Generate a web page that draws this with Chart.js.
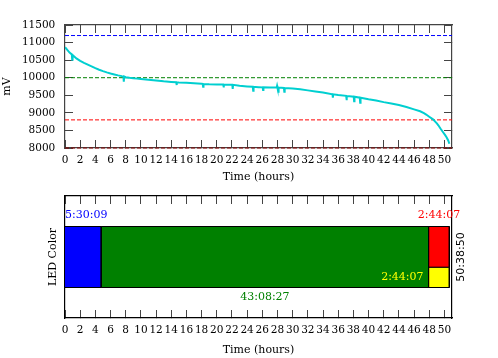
<!DOCTYPE html>
<html><head><meta charset="utf-8">
<script src="https://cdn.jsdelivr.net/npm/chart.js@4"></script>
<style>
html,body{margin:0;padding:0;background:#fff;}
#wrap{position:relative;width:498px;height:358px;overflow:hidden;}
#wrap canvas{position:absolute;left:0;top:0;}
</style></head><body>
<div id="wrap">
<canvas id="topChart" width="498" height="358"></canvas>
<canvas id="botChart" width="498" height="358"></canvas>
</div>
<script>
// ---------- data ----------
const hours = [0,0.3,0.6,0.9,0.95,1.0,1.5,2,2.5,3,3.5,4,4.5,5,5.5,6,6.5,7,7.5,7.7,7.75,7.8,8,8.5,9,9.5,10,11,12,13,14,14.65,14.7,14.75,15,16,17,18,18.15,18.2,18.25,19,20,20.85,20.9,20.95,21.5,22.05,22.1,22.15,23,24,24.75,24.8,24.85,25.5,26.05,26.1,26.15,27,27.9,27.95,28.0,28.1,28.15,28.85,28.9,28.95,30,31,32,33,34,35.25,35.3,35.35,36,37.05,37.1,37.15,38.05,38.1,38.15,38.85,38.9,38.95,40,41,42,43,44,45,46,46.8,47.3,47.6,48,48.5,49,49.2,49.5,49.8,50.1,50.3,50.5,50.65];
const voltage = [10870,10790,10715,10660,10510,10645,10550,10478,10420,10370,10322,10272,10228,10188,10152,10120,10092,10066,10045,10040,9890,10035,10015,9998,9985,9975,9965,9942,9918,9896,9880,9872,9790,9870,9865,9855,9840,9825,9822,9745,9820,9812,9808,9806,9725,9805,9803,9800,9685,9798,9770,9752,9742,9630,9740,9732,9726,9650,9725,9722,9722,9770,9720,9600,9718,9708,9600,9706,9690,9672,9640,9610,9580,9530,9430,9528,9505,9485,9360,9482,9460,9330,9458,9432,9285,9430,9385,9350,9305,9268,9222,9165,9100,9046,8992,8952,8890,8815,8700,8647,8548,8456,8365,8300,8215,8120];
const refLevels = [11200, 10000, 8800, 8000];
const refColors = ['#0000ff', '#008000', '#ff0000', '#8b0000'];
const yTickMin = 8000, yTickMax = 11500, yTickStep = 500;
const xTickMin = 0, xTickMax = 51, xTickStep = 2;

const ledColors = ['#0000ff', '#008000', '#ff0000', '#ffff00'];
const ledStart  = [-0.731, 4.771, 47.912, 47.912];
const ledEnd    = [4.771, 47.912, 50.647, 50.647];
const ledLow    = [0, 0, 0.333, 0];
const ledHigh   = [1, 1, 1, 0.333];
const ledLabels = ['5:30:09', '43:08:27', '2:44:07', '2:44:07'];
const totalLabel = '50:38:50';

// ---------- styles ----------
const SERIF = 'DejaVu Serif';
const tickFont = {family: SERIF, size: 10.5};
const titleFont = {family: SERIF, size: 11};
const AX = '#444';

function inwardGrid(color){ return {drawOnChartArea:false, drawTicks:true, tickLength:-8, color:color, lineWidth:1}; }

// ---------- top chart ----------
const voltagePoints = hours.map((h,i)=>({x:h, y:voltage[i]}));
const topDatasets = [{
  data: voltagePoints, borderColor:'#00cfd0', borderWidth:2, pointRadius:0, tension:0, fill:false, order:0
}].concat(refLevels.map((v,i)=>({
  data:[{x:xTickMin,y:v},{x:xTickMax,y:v}], borderColor:refColors[i], borderWidth:1,
  borderDash:[4,2], pointRadius:0, fill:false, order:1, clip:false
})));

new Chart(document.getElementById('topChart'), {
  type:'line',
  data:{datasets: topDatasets},
  options:{
    responsive:false, animation:false, devicePixelRatio:1,
    layout:{padding:{top:25, right:46, left:0, bottom:0}},
    plugins:{legend:{display:false}, tooltip:{enabled:false}},
    scales:{
      x:{type:'linear', position:'bottom', min:xTickMin, max:xTickMax,
         ticks:{stepSize:xTickStep, includeBounds:false, autoSkip:false, maxRotation:0, minRotation:0, padding:14, font:tickFont, color:'#000', callback:v=>String(v)},
         grid:inwardGrid(AX), border:{display:true, color:AX, width:1.2},
         title:{display:true, text:'Time (hours)', font:titleFont, color:'#000', padding:{top:0,bottom:174.4}},
         afterFit:s=>{s.height=210;}},
      x2:{type:'linear', position:'top', min:xTickMin, max:xTickMax,
         ticks:{display:false, stepSize:xTickStep, includeBounds:false},
         grid:inwardGrid(AX), border:{display:true, color:AX, width:1.2},
         afterFit:s=>{s.height=0;}},
      y:{type:'linear', position:'left', min:yTickMin, max:yTickMax,
         ticks:{stepSize:yTickStep, padding:17.7, font:tickFont, color:'#000', callback:v=>String(v)},
         grid:inwardGrid(AX), border:{display:true, color:AX, width:1.2},
         title:{display:true, text:'mV', font:titleFont, color:'#000', padding:{top:0.4,bottom:0}},
         afterFit:s=>{s.width=65;}},
      y2:{type:'linear', position:'right', min:yTickMin, max:yTickMax,
         ticks:{display:false, stepSize:yTickStep},
         grid:inwardGrid(AX), border:{display:true, color:AX, width:1.2},
         afterFit:s=>{s.width=0;}}
    }
  }
});

// ---------- bottom chart ----------
const ledDatasets = ledColors.map((c,i)=>({
  data:[{x:ledStart[i],y:ledLow[i]},{x:ledStart[i],y:ledHigh[i]},{x:ledEnd[i],y:ledHigh[i]},{x:ledEnd[i],y:ledLow[i]},{x:ledStart[i],y:ledLow[i]}],
  backgroundColor:c, borderColor:'#000', borderWidth:1, pointRadius:0, tension:0, fill:'shape', order:i
}));

const ledLabelPlugin = {
  id:'ledLabels',
  afterDatasetsDraw(chart){
    const {ctx, chartArea} = chart;
    const x = chart.scales.x, y = chart.scales.y;
    ctx.save();
    ctx.font = '11px "DejaVu Serif"';
    ctx.textBaseline = 'middle';
    ctx.fillStyle = ledColors[0]; ctx.textAlign = 'left';
    ctx.fillText(ledLabels[0], x.getPixelForValue(Math.max(ledStart[0], x.min)), y.getPixelForValue(ledHigh[0]) - 11);
    ctx.fillStyle = ledColors[1]; ctx.textAlign = 'center';
    ctx.fillText(ledLabels[1], x.getPixelForValue((ledStart[1]+ledEnd[1])/2), y.getPixelForValue(ledLow[1]) + 10);
    ctx.fillStyle = ledColors[2]; ctx.textAlign = 'center';
    ctx.fillText(ledLabels[2], x.getPixelForValue((ledStart[2]+ledEnd[2])/2), y.getPixelForValue(ledHigh[2]) - 11);
    ctx.fillStyle = ledColors[3]; ctx.textAlign = 'right';
    ctx.fillText(ledLabels[3], x.getPixelForValue(ledStart[3]) - 5, y.getPixelForValue((ledLow[3]+ledHigh[3])/2));
    ctx.fillStyle = '#000'; ctx.textAlign = 'center';
    ctx.font = '11px "DejaVu Sans"';
    ctx.translate(chartArea.right + 9, y.getPixelForValue(0.5));
    ctx.rotate(-Math.PI/2);
    ctx.fillText(totalLabel, 0, 0);
    ctx.restore();
  }
};

new Chart(document.getElementById('botChart'), {
  type:'line',
  data:{datasets: ledDatasets},
  plugins:[ledLabelPlugin],
  options:{
    responsive:false, animation:false, devicePixelRatio:1,
    layout:{padding:{top:196, right:46, left:0, bottom:0}},
    plugins:{legend:{display:false}, tooltip:{enabled:false}},
    scales:{
      x:{type:'linear', position:'bottom', min:xTickMin, max:xTickMax,
         ticks:{stepSize:xTickStep, includeBounds:false, autoSkip:false, maxRotation:0, minRotation:0, padding:14, font:tickFont, color:'#000', callback:v=>String(v)},
         grid:inwardGrid(AX), border:{display:true, color:'#000', width:1.2},
         title:{display:true, text:'Time (hours)', font:titleFont, color:'#000', padding:{top:0,bottom:1.4}},
         afterFit:s=>{s.height=40;}},
      x2:{type:'linear', position:'top', min:xTickMin, max:xTickMax,
         ticks:{display:false, stepSize:xTickStep, includeBounds:false},
         grid:inwardGrid(AX), border:{display:true, color:'#000', width:1.2},
         afterFit:s=>{s.height=0;}},
      y:{type:'linear', position:'left', min:-0.5, max:1.5,
         ticks:{display:false},
         grid:{drawOnChartArea:false, drawTicks:false},
         border:{display:true, color:'#000', width:1.2},
         title:{display:true, text:'LED Color', font:titleFont, color:'#000', padding:{top:46.7,bottom:0}},
         afterFit:s=>{s.width=65;}},
      y2:{type:'linear', position:'right', min:-0.5, max:1.5,
         ticks:{display:false},
         grid:{drawOnChartArea:false, drawTicks:false},
         border:{display:true, color:'#000', width:1.2},
         afterFit:s=>{s.width=0;}}
    }
  }
});
</script>
</body></html>
